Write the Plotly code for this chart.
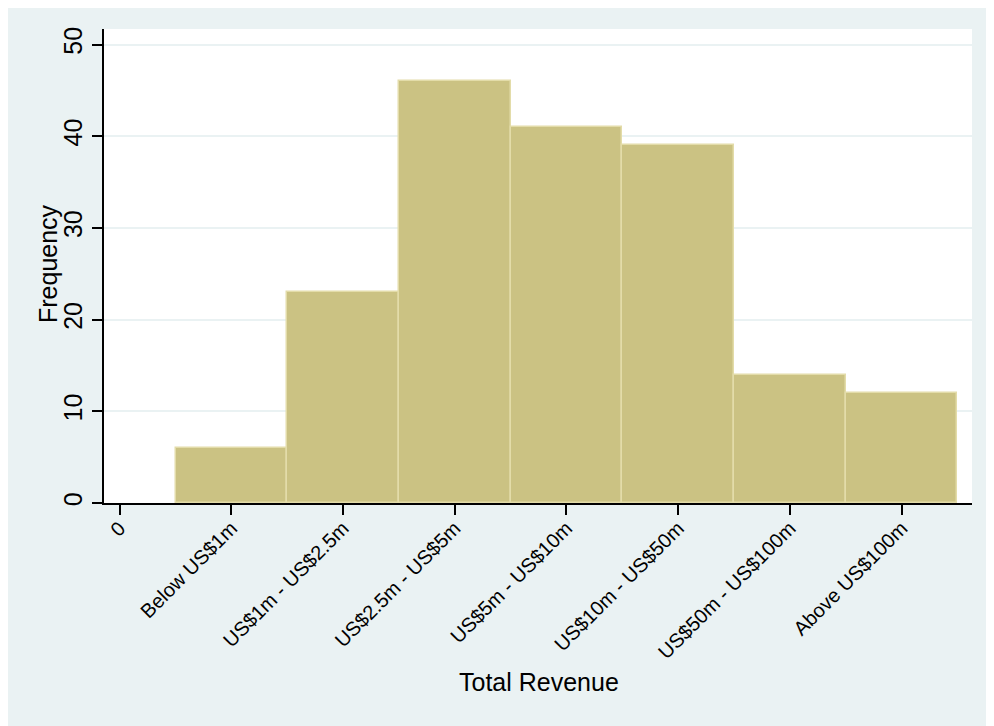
import plotly.graph_objects as go

# Data
categories = ["Below US$1m", "US$1m - US$2.5m", "US$2.5m - US$5m", "US$5m - US$10m",
              "US$10m - US$50m", "US$50m - US$100m", "Above US$100m"]
frequency = [6, 23, 46, 41, 39, 14, 12]
bin_centers = [1, 2, 3, 4, 5, 6, 7]
x_tick_vals = [0, 1, 2, 3, 4, 5, 6, 7]
x_tick_text = ["0"] + categories
y_tick_vals = [0, 10, 20, 30, 40, 50]

BG = "#EAF2F3"
FONT = "Liberation Sans, Arial, sans-serif"

# page body has an 8px margin (white border at top/left); figure overflows right/bottom
W, H = 994, 726
L, R, T, B = 96, 30, 21, 231
pw, ph = W - L - R, H - T - B

fig = go.Figure()
fig.add_trace(go.Bar(
    x=bin_centers, y=frequency, width=1,
    marker=dict(color="#CBC283", line=dict(color="#E3DCA9", width=1.5)),
    hoverinfo="x+y", showlegend=False,
))

fig.update_layout(
    width=W, height=H,
    margin=dict(l=L, r=R, t=T, b=B, autoexpand=False),
    paper_bgcolor=BG, plot_bgcolor="white",
    font=dict(family=FONT, color="black"),
    bargap=0,
    xaxis=dict(
        range=[-0.14, 7.63], tickmode="array", tickvals=x_tick_vals, ticktext=x_tick_text,
        tickangle=-45, tickfont=dict(size=20), ticks="outside", ticklen=10, tickwidth=1.5,
        tickcolor="black", showline=True, linecolor="black", linewidth=1.5,
        showgrid=False, zeroline=False, automargin=False, ticklabelstandoff=-6,
    ),
    yaxis=dict(
        range=[0, 51.7], tickmode="array", tickvals=y_tick_vals,
        tickangle=-90, tickfont=dict(size=25), ticks="outside", ticklen=10, tickwidth=1.5,
        tickcolor="black", showline=True, linecolor="black", linewidth=1.5,
        showgrid=True, gridcolor=BG, gridwidth=2, zeroline=False, automargin=False,
    ),
    annotations=[
        dict(text="Total Revenue", xref="paper", yref="paper", x=(531 - L) / pw,
             y=(495 - 674) / ph, xanchor="center", yanchor="middle",
             showarrow=False, font=dict(size=25)),
        dict(text="Frequency", xref="paper", yref="paper", x=(40 - L) / pw,
             y=(495 - 256) / ph, xanchor="center", yanchor="middle", textangle=-90,
             showarrow=False, font=dict(size=25)),
    ],
)

fig.write_html("out.html")
